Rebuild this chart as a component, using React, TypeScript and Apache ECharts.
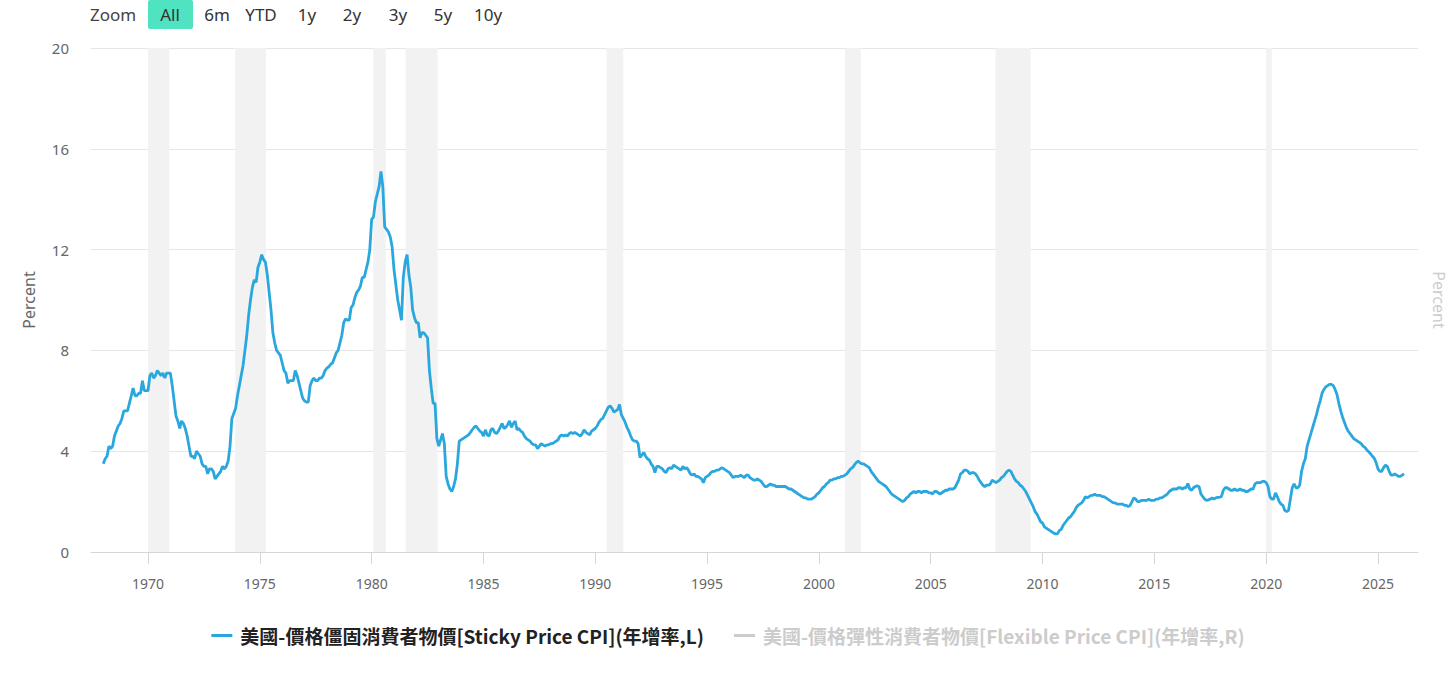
import React, { useEffect, useRef } from "react";
import * as echarts from "echarts";

// Monthly year-over-year % change, Sticky Price CPI, starting Jan 1968
const START_YEAR = 1968;
const sticky: number[] = [
  // 1968
  3.5, 3.7, 3.8, 4.2, 4.1, 4.2, 4.6, 4.8, 5.0, 5.1, 5.3, 5.6,
  // 1969
  5.6, 5.6, 5.9, 6.2, 6.5, 6.2, 6.2, 6.3, 6.3, 6.8, 6.4, 6.4,
  // 1970
  6.4, 7.0, 7.1, 6.9, 7.0, 7.2, 7.1, 7.0, 7.1, 6.9, 7.1, 7.1,
  // 1971
  7.1, 6.6, 6.0, 5.4, 5.2, 4.9, 5.2, 5.1, 4.9, 4.6, 4.2, 3.8,
  // 1972
  3.8, 3.7, 4.0, 3.9, 3.8, 3.5, 3.4, 3.4, 3.1, 3.3, 3.3, 3.2,
  // 1973
  2.9, 3.0, 3.1, 3.2, 3.4, 3.3, 3.4, 3.6, 4.2, 5.3, 5.5, 5.7,
  // 1974
  6.2, 6.6, 7.0, 7.4, 8.0, 8.6, 9.4, 10.0, 10.5, 10.8, 10.7, 11.3,
  // 1975
  11.5, 11.8, 11.6, 11.5, 11.0, 10.3, 9.6, 8.7, 8.3, 8.0, 7.9, 7.8,
  // 1976
  7.5, 7.2, 7.1, 6.7, 6.8, 6.8, 6.8, 7.2, 7.0, 6.7, 6.4, 6.1,
  // 1977
  6.0, 5.95, 5.95, 6.6, 6.8, 6.9, 6.8, 6.8, 6.9, 6.9, 7.0, 7.2,
  // 1978
  7.3, 7.35, 7.45, 7.5, 7.7, 7.9, 8.0, 8.3, 8.6, 9.1, 9.25, 9.2,
  // 1979
  9.2, 9.7, 9.8, 10.1, 10.3, 10.4, 10.55, 10.9, 10.9, 11.2, 11.5, 12.0,
  // 1980
  13.2, 13.3, 13.9, 14.2, 14.5, 15.1, 14.5, 12.9, 12.8, 12.7, 12.5, 12.1,
  // 1981
  11.2, 10.6, 10.0, 9.6, 9.2, 10.9, 11.5, 11.8, 11.0, 10.5, 9.6, 9.3,
  // 1982
  9.1, 9.1, 8.5, 8.7, 8.7, 8.6, 8.5, 7.2, 6.5, 5.9, 5.9, 4.5,
  // 1983
  4.2, 4.45, 4.7, 4.3, 3.0, 2.7, 2.5, 2.4, 2.6, 2.9, 3.5, 4.4,
  // 1984
  4.45, 4.5, 4.55, 4.6, 4.65, 4.75, 4.85, 4.95, 5.0, 4.9, 4.8, 4.75,
  // 1985
  4.6, 4.85, 4.65, 4.6, 4.85, 4.9, 4.75, 4.7, 4.8, 4.95, 5.1, 4.9,
  // 1986
  4.95, 5.05, 5.2, 4.95, 5.1, 5.2, 4.85, 4.9, 4.8, 4.75, 4.6, 4.5,
  // 1987
  4.45, 4.4, 4.3, 4.25, 4.25, 4.1, 4.2, 4.3, 4.25, 4.2, 4.25, 4.25,
  // 1988
  4.3, 4.3, 4.35, 4.4, 4.45, 4.6, 4.65, 4.6, 4.65, 4.6, 4.7, 4.75,
  // 1989
  4.7, 4.75, 4.7, 4.65, 4.6, 4.7, 4.85, 4.75, 4.7, 4.65, 4.8, 4.85,
  // 1990
  4.9, 5.0, 5.15, 5.25, 5.3, 5.45, 5.6, 5.75, 5.8, 5.7, 5.55, 5.6,
  // 1991
  5.65, 5.85, 5.45, 5.3, 5.15, 4.95, 4.8, 4.6, 4.45, 4.4, 4.4, 4.3,
  // 1992
  3.75, 3.85, 3.95, 3.8, 3.7, 3.65, 3.5, 3.4, 3.15, 3.4, 3.4, 3.35,
  // 1993
  3.3, 3.2, 3.15, 3.3, 3.35, 3.3, 3.45, 3.4, 3.35, 3.3, 3.25, 3.4,
  // 1994
  3.3, 3.35, 3.25, 3.1, 3.05, 3.1, 3.0, 3.0, 2.95, 2.9, 2.75, 2.95,
  // 1995
  3.0, 3.05, 3.15, 3.2, 3.2, 3.25, 3.25, 3.3, 3.35, 3.3, 3.25, 3.2,
  // 1996
  3.15, 3.05, 2.95, 3.0, 3.0, 3.0, 3.05, 3.0, 2.95, 3.05, 3.05, 2.95,
  // 1997
  2.9, 2.85, 2.85, 2.9, 2.85, 2.8, 2.7, 2.6, 2.6, 2.65, 2.7, 2.65,
  // 1998
  2.65, 2.6, 2.6, 2.6, 2.6, 2.6, 2.6, 2.55, 2.5, 2.5, 2.45, 2.4,
  // 1999
  2.35, 2.3, 2.25, 2.2, 2.15, 2.15, 2.1, 2.1, 2.1, 2.15, 2.2, 2.3,
  // 2000
  2.35, 2.45, 2.55, 2.6, 2.7, 2.75, 2.85, 2.85, 2.9, 2.9, 2.95, 2.95,
  // 2001
  3.0, 3.0, 3.05, 3.1, 3.2, 3.3, 3.35, 3.45, 3.55, 3.6, 3.55, 3.5,
  // 2002
  3.5, 3.45, 3.4, 3.35, 3.2, 3.1, 3.0, 2.9, 2.8, 2.75, 2.7, 2.65,
  // 2003
  2.6, 2.5, 2.4, 2.3, 2.25, 2.2, 2.15, 2.1, 2.05, 2.0, 2.05, 2.15,
  // 2004
  2.2, 2.3, 2.35, 2.4, 2.35, 2.4, 2.4, 2.35, 2.4, 2.4, 2.4, 2.35,
  // 2005
  2.35, 2.3, 2.4, 2.4, 2.35, 2.3, 2.35, 2.4, 2.45, 2.45, 2.5, 2.5,
  // 2006
  2.5, 2.55, 2.7, 2.85, 3.1, 3.15, 3.25, 3.25, 3.2, 3.1, 3.15, 3.15,
  // 2007
  3.1, 3.0, 2.85, 2.75, 2.65, 2.6, 2.65, 2.65, 2.7, 2.85, 2.8, 2.75,
  // 2008
  2.8, 2.85, 2.95, 3.0, 3.1, 3.2, 3.25, 3.2, 3.05, 2.9, 2.8, 2.75,
  // 2009
  2.65, 2.6, 2.5, 2.4, 2.25, 2.1, 1.95, 1.8, 1.6, 1.5, 1.35, 1.2,
  // 2010
  1.15, 1.0, 0.95, 0.9, 0.85, 0.8, 0.75, 0.72, 0.72, 0.85, 0.9, 1.05,
  // 2011
  1.15, 1.25, 1.35, 1.4, 1.5, 1.6, 1.75, 1.85, 1.9, 1.95, 2.05, 2.2,
  // 2012
  2.15, 2.2, 2.25, 2.25, 2.3, 2.25, 2.25, 2.25, 2.2, 2.2, 2.15, 2.1,
  // 2013
  2.05, 2.0, 1.95, 1.95, 1.9, 1.9, 1.9, 1.9, 1.85, 1.85, 1.8, 1.85,
  // 2014
  2.0, 2.15, 2.1, 2.0, 2.0, 2.05, 2.05, 2.05, 2.05, 2.1, 2.05, 2.05,
  // 2015
  2.05, 2.1, 2.1, 2.15, 2.15, 2.2, 2.25, 2.3, 2.4, 2.45, 2.5, 2.5,
  // 2016
  2.5, 2.55, 2.55, 2.5, 2.55, 2.55, 2.72, 2.5, 2.45, 2.55, 2.6, 2.62,
  // 2017
  2.6, 2.3, 2.2, 2.1, 2.05, 2.07, 2.1, 2.15, 2.1, 2.15, 2.17, 2.17,
  // 2018
  2.2, 2.45, 2.55, 2.55, 2.5, 2.45, 2.45, 2.5, 2.45, 2.45, 2.5, 2.45,
  // 2019
  2.45, 2.4, 2.4, 2.45, 2.5, 2.5, 2.7, 2.75, 2.75, 2.75, 2.8, 2.8,
  // 2020
  2.75, 2.6, 2.2, 2.1, 2.1, 2.35, 2.2, 2.0, 1.9, 1.85, 1.65, 1.6,
  // 2021
  1.65, 2.1, 2.55, 2.7, 2.55, 2.55, 2.65, 3.2, 3.5, 3.7, 4.2, 4.45,
  // 2022
  4.7, 4.95, 5.2, 5.45, 5.75, 6.0, 6.3, 6.45, 6.55, 6.6, 6.65, 6.65,
  // 2023
  6.6, 6.45, 6.25, 5.9, 5.6, 5.35, 5.15, 4.95, 4.8, 4.7, 4.6, 4.5,
  // 2024
  4.45, 4.4, 4.35, 4.3, 4.2, 4.15, 4.05, 3.98, 3.9, 3.8, 3.72, 3.55,
  // 2025
  3.3, 3.2, 3.2, 3.35, 3.45, 3.4, 3.2, 3.05, 3.05, 3.1, 3.05, 3.0,
  // 2026
  3.0, 3.05, 3.1,
];

// Recession periods (decimal years)
const recessionStarts: number[] = [1970.0, 1973.9, 1980.07, 1981.52, 1990.5, 2001.17, 2007.9, 2020.0];
const recessionEnds: number[] = [1970.95, 1975.27, 1980.63, 1982.95, 1991.25, 2001.87, 2009.47, 2020.25];

const xTickYears: number[] = [1970, 1975, 1980, 1985, 1990, 1995, 2000, 2005, 2010, 2015, 2020, 2025];
const zoomButtons: string[] = ["All", "6m", "YTD", "1y", "2y", "3y", "5y", "10y"];
const zoomButtonCenters: number[] = [170, 217, 261, 307, 352, 398, 443, 488];

const SERIES_STICKY = "美國-價格僵固消費者物價[Sticky Price CPI](年增率,L)";
const SERIES_FLEX = "美國-價格彈性消費者物價[Flexible Price CPI](年增率,R)";

const FONT = '"Noto Sans", "Noto Sans CJK TC", sans-serif';
const LEGEND_FONT = '"Noto Sans CJK TC", "Noto Sans", sans-serif';

export default function App() {
  const ref = useRef<HTMLDivElement>(null);

  useEffect(() => {
    document.body.style.margin = "0";
    if (!ref.current) return;
    const chart = echarts.init(ref.current, undefined, { renderer: "svg" });

    const data = sticky.map((v, i) => [START_YEAR + i / 12, v]);
    const areas = recessionStarts.map((s, i) => [{ xAxis: s }, { xAxis: recessionEnds[i] }]);

    const graphics: any[] = [
      {
        type: "text",
        x: 90,
        y: 14,
        style: { text: "Zoom", font: `17px ${FONT}`, fill: "#444", verticalAlign: "middle" },
      },
      {
        type: "rect",
        shape: { x: 148, y: 0, width: 45, height: 29, r: 2 },
        style: { fill: "#50e3c2" },
      },
    ];
    zoomButtons.forEach((b, i) => {
      graphics.push({
        type: "text",
        x: zoomButtonCenters[i],
        y: 14,
        style: {
          text: b,
          font: `17px ${FONT}`,
          fill: "#333",
          align: "center",
          verticalAlign: "middle",
        },
      });
    });

    chart.setOption({
      animation: false,
      textStyle: { fontFamily: FONT },
      grid: {
        left: 91,
        right: 38,
        top: 48,
        bottom: 123,
        containLabel: false,
        outerBoundsMode: "none",
      },
      xAxis: {
        type: "value",
        min: 1967.45,
        max: 2026.79,
        axisLine: { show: true, lineStyle: { color: "#d6d6d6", width: 1 } },
        axisTick: {
          show: true,
          length: 12,
          lineStyle: { color: "#d6d6d6" },
          customValues: xTickYears,
        },
        axisLabel: {
          color: "#666",
          fontSize: 14,
          margin: 24,
          customValues: xTickYears,
          formatter: (v: number) => String(Math.round(v)),
        },
        splitLine: { show: false },
      },
      yAxis: [
        {
          type: "value",
          min: 0,
          max: 20,
          interval: 4,
          name: "Percent",
          nameLocation: "middle",
          nameRotate: 90,
          nameGap: 54,
          nameTextStyle: { color: "#666", fontSize: 16 },
          axisLine: { show: false },
          axisTick: { show: false },
          axisLabel: { color: "#666", fontSize: 15, margin: 22 },
          splitLine: { lineStyle: { color: "#e6e6e6", width: 1 } },
        },
        {
          type: "value",
          min: 0,
          max: 20,
          interval: 4,
          position: "right",
          name: "Percent",
          nameLocation: "middle",
          nameRotate: -90,
          nameGap: 13,
          nameTextStyle: { color: "#cccccc", fontSize: 16 },
          axisLine: { show: false },
          axisTick: { show: false },
          axisLabel: { show: false },
          splitLine: { show: false },
        },
      ],
      legend: {
        top: 621,
        left: "center",
        itemGap: 30,
        itemWidth: 21,
        itemHeight: 3,
        icon: "rect",
        inactiveColor: "#cccccc",
        textStyle: {
          color: "#222",
          fontSize: 19,
          fontWeight: "bold",
          fontFamily: LEGEND_FONT,
          padding: [0, 0, 0, 3],
        },
        data: [SERIES_STICKY, SERIES_FLEX],
        selected: { [SERIES_FLEX]: false },
      },
      graphic: graphics,
      series: [
        {
          name: SERIES_STICKY,
          type: "line",
          data,
          showSymbol: false,
          symbol: "none",
          lineStyle: { color: "#2aa7dc", width: 2.8 },
          itemStyle: { color: "#2aa7dc" },
          z: 3,
          markArea: {
            silent: true,
            itemStyle: { color: "#f2f2f2" },
            data: areas,
          },
        },
        {
          name: SERIES_FLEX,
          type: "line",
          yAxisIndex: 1,
          data: [],
          showSymbol: false,
          lineStyle: { color: "#999999", width: 2 },
          itemStyle: { color: "#999999" },
        },
      ],
    });

    return () => chart.dispose();
  }, []);

  return <div ref={ref} style={{ width: 1456, height: 675 }} />;
}
